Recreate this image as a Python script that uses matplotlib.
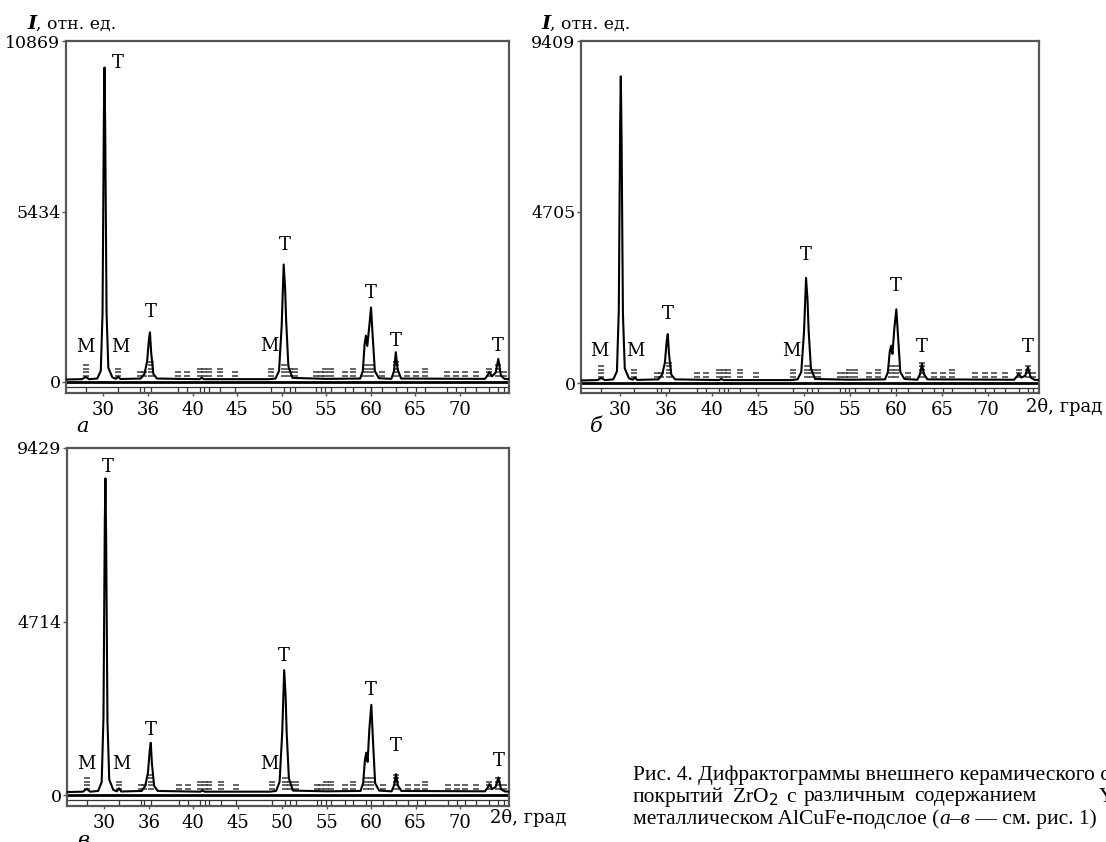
import matplotlib
matplotlib.use('Agg')
import matplotlib.pyplot as plt

W, H = 1106, 842

# ---------------- data ----------------
two_theta = [25.8, 27.6, 28.0, 28.4, 29.3, 29.7, 29.9, 30.05, 30.12, 30.2, 30.35, 30.55, 31.0,
             31.4, 31.65, 31.9, 34.2, 34.6, 34.9, 35.1, 35.22, 35.35, 35.6, 36.0, 40.8, 41.0,
             41.3, 48.6, 49.3, 49.7, 50.0, 50.22, 50.38, 50.5, 50.75, 51.2, 55.0, 58.8, 59.1,
             59.3, 59.45, 59.6, 59.8, 60.02, 60.2, 60.45, 60.9, 62.3, 62.6, 62.8, 63.0, 63.4,
             72.8, 73.1, 73.3, 73.6, 74.0, 74.3, 74.6, 75.0, 75.5]

intensity_a = [80, 90, 160, 90, 110, 350, 2200, 8500, 10025, 8000, 2200, 450, 150,
               100, 170, 95, 110, 260, 650, 1350, 1583, 950, 260, 110, 90, 130,
               90, 90, 110, 350, 1800, 3746, 3000, 1950, 500, 130, 100, 110, 350,
               1200, 1477, 1150, 1700, 2374, 1500, 350, 120, 100, 350, 950, 400, 110,
               100, 220, 320, 180, 300, 739, 200, 100, 90]

intensity_b = [70, 80, 140, 80, 100, 320, 2000, 7200, 8436, 6800, 1900, 400, 130,
               90, 150, 85, 100, 230, 550, 1150, 1345, 800, 230, 100, 80, 110,
               80, 80, 100, 300, 1400, 2891, 2300, 1450, 400, 110, 90, 100, 300,
               850, 1027, 800, 1500, 2027, 1300, 300, 110, 90, 250, 527, 250, 100,
               90, 180, 255, 150, 200, 436, 150, 90, 80]

intensity_c = [80, 90, 170, 90, 110, 350, 2100, 7400, 8603, 7000, 2000, 420, 140,
               100, 180, 95, 110, 250, 600, 1200, 1419, 850, 250, 110, 90, 120,
               90, 90, 110, 350, 1700, 3394, 2700, 1700, 450, 120, 100, 110, 320,
               950, 1149, 900, 1800, 2451, 1500, 320, 120, 100, 280, 566, 260, 110,
               100, 200, 296, 160, 220, 476, 160, 100, 90]

# reference line markers (positions, number of dashes in stack)
ref_pos = [28.0, 31.6, 34.1, 34.5, 35.3, 38.4, 39.4, 40.8, 41.3, 41.8, 43.1, 44.8, 48.8,
           50.3, 50.9, 51.5, 53.9, 54.4, 54.9, 55.5, 57.1, 58.0, 59.4, 60.0, 61.3, 62.8,
           64.1, 65.1, 66.1, 68.6, 69.6, 70.6, 71.8, 73.3, 74.3, 74.9]
ref_n = [4, 3, 2, 2, 5, 2, 2, 3, 3, 3, 3, 2, 3, 4, 3, 3, 2, 2, 3, 3, 2, 3, 4, 4, 2, 5,
         2, 2, 3, 2, 2, 2, 2, 3, 4, 2]

x_ticks = [30, 35, 40, 45, 50, 55, 60, 65, 70]
x_tick_labels = ['30', '36', '40', '45', '50', '55', '60', '65', '70']

y_ticks_a = [0, 5434, 10869]
y_ticks_b = [0, 4705, 9409]
y_ticks_c = [0, 4714, 9429]

labels_a_text = ['T', 'T', 'T', 'T', 'T', 'T', 'M', 'M', 'M']
labels_a_x = [31.6, 35.3, 50.3, 60.0, 62.8, 74.3, 28.0, 31.9, 48.6]
labels_a_y = [10183, 2216, 4379, 2849, 1319, 1161, 1108, 1108, 1150]

labels_b_text = ['T', 'T', 'T', 'T', 'T', 'M', 'M', 'M']
labels_b_x = [35.2, 50.2, 60.0, 62.8, 74.3, 27.8, 31.7, 48.6]
labels_b_y = [1891, 3527, 2664, 982, 982, 880, 880, 880]

labels_c_text = ['T', 'T', 'T', 'T', 'T', 'T', 'M', 'M', 'M']
labels_c_x = [30.4, 35.2, 50.2, 60.0, 62.8, 74.3, 28.0, 31.9, 48.6]
labels_c_y = [8917, 1778, 3781, 2856, 1329, 925, 835, 835, 835]

caption_1 = 'Рис. 4. Дифрактограммы внешнего керамического слоя'
caption_2 = ['покрытий', 'ZrO$_2$', 'с', 'различным', 'содержанием', 'Y$_2$O$_3$']
caption_3 = [('металлическом AlCuFe-подслое (', 'normal'), ('а–в', 'italic'),
             (' — см. рис. 1)', 'normal')]

# ---------------- figure ----------------
fig = plt.figure(figsize=(W / 100, H / 100), dpi=100)
SERIF = 'DejaVu Serif'
FRAME = '#555555'


def make_panel(left, right, top, base, bottom, y, yticks, lab_text, lab_x, lab_y, letter, letter_xy):
    ax = fig.add_axes([left / W, 1 - bottom / H, (right - left) / W, (bottom - top) / H])
    ymax = yticks[-1]
    upp = ymax / (base - top)          # data units per pixel
    ymin = -(bottom - base) * upp
    ax.set_xlim(25.8, 75.5)
    ax.set_ylim(ymin, ymax)
    # strip below baseline
    ax.axhline(0, color='black', lw=2.0, zorder=2)
    ax.axhline(-5 * upp, color='#333333', lw=0.9, zorder=2)
    ax.vlines(ref_pos, ymin, -5 * upp, color='#333333', lw=0.9)
    # dash stacks
    for p, n in zip(ref_pos, ref_n):
        ys = [(6 + 3.6 * k) * upp for k in range(n)]
        ax.plot([p] * n, ys, linestyle='none', marker='_', markersize=4.5,
                mew=1.1, color='#3a3a3a')
    ax.plot(two_theta, y, color='black', lw=1.5, zorder=3)
    for t, xx, yy in zip(lab_text, lab_x, lab_y):
        ax.text(xx, yy, t, ha='center', va='center', fontsize=13, family=SERIF)
    ax.set_xticks(x_ticks)
    ax.set_xticklabels(x_tick_labels, family=SERIF, fontsize=13)
    ax.set_yticks(yticks)
    ax.set_yticklabels([str(v) for v in yticks], family=SERIF, fontsize=12.5)
    ax.tick_params(axis='x', direction='out', length=2.5, width=1, pad=3.5, color=FRAME)
    ax.tick_params(axis='y', direction='out', length=3, width=1, pad=1, color=FRAME)
    for s in ax.spines.values():
        s.set_color(FRAME)
        s.set_linewidth(1.6)
    fig.text(letter_xy[0] / W, 1 - letter_xy[1] / H, letter, fontsize=15,
             style='italic', family=SERIF, ha='center', va='center')
    return ax


ax_a = make_panel(66, 509, 41, 382, 393, intensity_a, y_ticks_a,
                  labels_a_text, labels_a_x, labels_a_y, 'а', (83, 427))
ax_b = make_panel(581, 1039, 41, 383, 393, intensity_b, y_ticks_b,
                  labels_b_text, labels_b_x, labels_b_y, 'б', (596, 427))
ax_c = make_panel(67, 509, 448, 795, 806, intensity_c, y_ticks_c,
                  labels_c_text, labels_c_x, labels_c_y, 'в', (83, 841))

# y-axis titles
for x0 in (27, 541):
    fig.text(x0 / W, 1 - 24 / H, 'I', fontsize=14, family=SERIF, style='italic',
             weight='bold', ha='left', va='center')
    fig.text((x0 + 9) / W, 1 - 24 / H, ', отн. ед.', fontsize=12.5, family=SERIF,
             ha='left', va='center')

# x-axis titles
fig.text(1026 / W, 1 - 407 / H, '2θ, град', fontsize=13, family=SERIF, ha='left', va='center')
fig.text(490 / W, 1 - 818 / H, '2θ, град', fontsize=13, family=SERIF, ha='left', va='center')

# caption
CAP = 'Liberation Serif'
CS = 15.5
renderer = fig.canvas.get_renderer()


def width_px(t):
    return t.get_window_extent(renderer=renderer).width


fig.text(633 / W, 1 - 775 / H, caption_1, fontsize=CS, family=CAP, ha='left', va='center')

# line 2: justified, words separated by wider gaps
x = 633.0
for i, w in enumerate(caption_2):
    t = fig.text(x / W, 1 - 797 / H, w, fontsize=CS, family=CAP, ha='left', va='center')
    x += width_px(t) + 8
    if i == len(caption_2) - 2:
        x = 1098.0

# line 3: mixed upright / italic pieces
x = 633.0
for s, st in caption_3:
    t = fig.text(x / W, 1 - 819 / H, s, fontsize=CS, family=CAP, style=st,
                 ha='left', va='center')
    x += width_px(t)

fig.savefig('out.png', dpi=100)
